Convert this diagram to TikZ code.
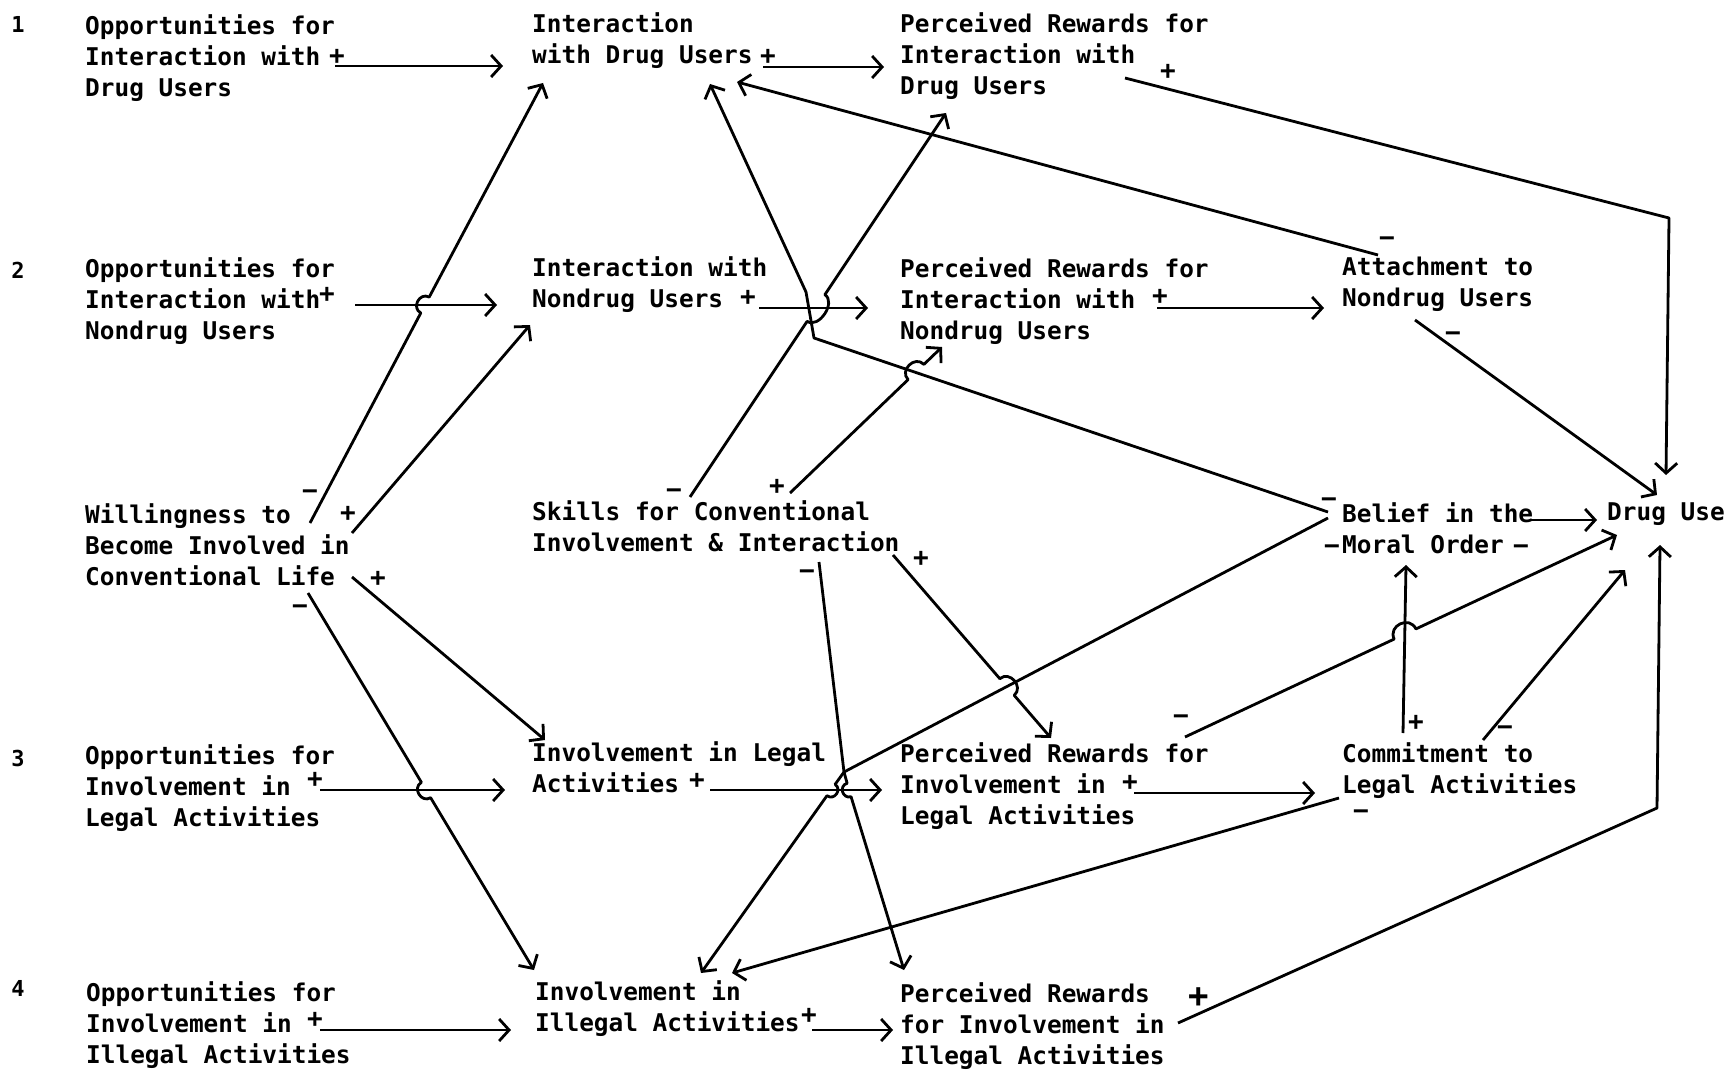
\documentclass[tikz,border=0pt]{standalone}
\usepackage{fontspec}
\newfontfamily\dfont{DejaVu Sans Mono}
\usetikzlibrary{arrows.meta,calc}
% hop over a crossing: start, crossing, end, half-width, height
\newcommand{\hopL}[5]{-- ($(#2)!#4!(#1)$) .. controls ($(#2)!#4!(#1)!#5!90:(#2)$) and ($(#2)!#4!(#3)!#5!-90:(#2)$) .. ($(#2)!#4!(#3)$) -- (#3)}
\newcommand{\hopR}[5]{-- ($(#2)!#4!(#1)$) .. controls ($(#2)!#4!(#1)!#5!-90:(#2)$) and ($(#2)!#4!(#3)!#5!90:(#2)$) .. ($(#2)!#4!(#3)$) -- (#3)}
\begin{document}
\begin{tikzpicture}[x=1pt,y=-1pt,
  lbl/.style={anchor=north west,inner sep=0pt,align=left,font=\dfont\bfseries\fontsize{24.4}{31}\selectfont},
  sgn/.style={inner sep=0pt,text height=16pt,text depth=0pt,font=\dfont\bfseries\fontsize{26}{26}\selectfont},
  bigsgn/.style={inner sep=0pt,text height=21pt,text depth=0pt,font=\dfont\bfseries\fontsize{34}{34}\selectfont},
  num/.style={inner sep=0pt,font=\dfont\bfseries\fontsize{22}{22}\selectfont},
  conn/.style={line width=2.8pt,line join=round,-{Straight Barb[length=10pt,width=22pt]}},
]
\fill[white] (0,0) rectangle (1736,1070);
\useasboundingbox (0,0) rectangle (1736,1070);

% row numbers
\node[num] (n1) at (18,24) {1};
\node[num] (n2) at (18,270) {2};
\node[num] (n3) at (18,758) {3};
\node[num] (n4) at (18,988) {4};

% text nodes
\node[lbl] (A1) at (85,14) {Opportunities for\\Interaction with\\Drug Users};
\node[lbl] (A2) at (85,257) {Opportunities for\\Interaction with\\Nondrug Users};
\node[lbl] (W) at (85,503) {Willingness to\\Become Involved in\\Conventional Life};
\node[lbl] (A3) at (85,744) {Opportunities for\\Involvement in\\Legal Activities};
\node[lbl] (A4) at (86,981) {Opportunities for\\Involvement in\\Illegal Activities};
\node[lbl] (B1) at (532,12) {Interaction\\with Drug Users};
\node[lbl] (B2) at (532,256) {Interaction with\\Nondrug Users};
\node[lbl] (S) at (532,500) {Skills for Conventional\\Involvement \& Interaction};
\node[lbl] (B3) at (532,741) {Involvement in Legal\\Activities};
\node[lbl] (B4) at (535,980) {Involvement in\\Illegal Activities};
\node[lbl] (C1) at (900,12) {Perceived Rewards for\\Interaction with\\Drug Users};
\node[lbl] (C2) at (900,257) {Perceived Rewards for\\Interaction with\\Nondrug Users};
\node[lbl] (C3) at (900,742) {Perceived Rewards for\\Involvement in\\Legal Activities};
\node[lbl] (C4) at (900,982) {Perceived Rewards\\for Involvement in\\Illegal Activities};
\node[lbl] (D2) at (1342,257) {Attachment to\\Nondrug Users};
\node[lbl] (M) at (1342,502) {Belief in the\\Moral Order};
\node[lbl] (D3) at (1342,742) {Commitment to\\Legal Activities};
\node[lbl] (U) at (1607,503) {Drug Use};

% connector end points
\coordinate (a1o) at (335,66);   \coordinate (b1a) at (503,66);
\coordinate (a2o) at (355,305);  \coordinate (b2a) at (497,305);
\coordinate (a3o) at (320,790);  \coordinate (b3a) at (505,790);
\coordinate (a4o) at (320,1030); \coordinate (b4a) at (511,1030);
\coordinate (b1o) at (763,67);   \coordinate (c1a) at (884,67);
\coordinate (b2o) at (759,308);  \coordinate (c2a) at (868,308);
\coordinate (b3o) at (710,790);  \coordinate (c3a) at (882,790);
\coordinate (b4o) at (812,1030); \coordinate (c4a) at (893,1030);
\coordinate (c2o) at (1157,308); \coordinate (d2a) at (1324,308);
\coordinate (c3o) at (1134,793); \coordinate (d3a) at (1315,793);
\coordinate (c1o) at (1125,78);  \coordinate (c1k) at (1669,218); \coordinate (uTop) at (1666,475);
\coordinate (d2o) at (1378,255); \coordinate (b1b) at (737,82);
\coordinate (d2u) at (1415,320); \coordinate (uTL) at (1657,495);
\coordinate (mo) at (1531,520);  \coordinate (uL) at (1597,520);
\coordinate (w1) at (310,523);   \coordinate (h1) at (425,305);   \coordinate (b1c) at (543,83);
\coordinate (w2) at (352,533);   \coordinate (b2b) at (530,325);
\coordinate (w3) at (352,577);   \coordinate (b3b) at (545,740);
\coordinate (w4) at (308,593);   \coordinate (h2) at (426,790);   \coordinate (b4b) at (534,970);
\coordinate (s1) at (690,497);   \coordinate (h3) at (816,308);   \coordinate (c1b) at (946,113);
\coordinate (s2) at (790,493);   \coordinate (h4) at (916,372);   \coordinate (c2b) at (942,347);
\coordinate (m1) at (1328,512);  \coordinate (mk1) at (814,338); \coordinate (mk2) at (806,292); \coordinate (b1d) at (710,84);
\coordinate (m2) at (1328,518);  \coordinate (kn) at (844,772);  \coordinate (h5) at (831,790); \coordinate (b4c) at (701,973);
\coordinate (s4) at (819,562);   \coordinate (h6) at (849,790);  \coordinate (c4b) at (904,970);
\coordinate (s3) at (893,555);   \coordinate (h7) at (1007,687); \coordinate (c3b) at (1051,738);
\coordinate (d3m) at (1403,733); \coordinate (mB) at (1406,565);
\coordinate (c3u) at (1185,737); \coordinate (h8) at (1405,634); \coordinate (uBL) at (1617,535);
\coordinate (d3u) at (1483,740); \coordinate (uB) at (1625,570);
\coordinate (d3b) at (1339,798); \coordinate (b4d) at (732,973);
\coordinate (c4o) at (1178,1023);\coordinate (c4k) at (1657,808); \coordinate (uBot) at (1660,545);

% connectors
\draw[conn] (a1o) -- (b1a);
\draw[conn] (a2o) -- (b2a);
\draw[conn] (a3o) -- (b3a);
\draw[conn] (a4o) -- (b4a);
\draw[conn] (b1o) -- (c1a);
\draw[conn] (b2o) -- (c2a);
\draw[conn] (b3o) -- (c3a);
\draw[conn] (b4o) -- (c4a);
\draw[conn] (c2o) -- (d2a);
\draw[conn] (c3o) -- (d3a);
\draw[conn] (c1o) -- (c1k) -- (uTop);
\draw[conn] (d2o) -- (b1b);
\draw[conn] (d2u) -- (uTL);
\draw[conn] (mo) -- (uL);
\draw[conn] (w1) \hopL{w1}{h1}{b1c}{9pt}{11pt};
\draw[conn] (w2) -- (b2b);
\draw[conn] (w3) -- (b3b);
\draw[conn] (w4) \hopR{w4}{h2}{b4b}{9pt}{11pt};
\draw[conn] (s1) \hopR{s1}{h3}{c1b}{16pt}{14pt};
\draw[conn] (s2) \hopL{s2}{h4}{c2b}{11pt}{13pt};
\draw[conn] (m1) -- (mk1) -- (mk2) -- (b1d);
\draw[conn] (m2) -- (kn) \hopL{kn}{h5}{b4c}{7pt}{9pt};
\draw[conn] (s4) -- (kn) \hopR{kn}{h6}{c4b}{7pt}{9pt};
\draw[conn] (s3) \hopL{s3}{h7}{c3b}{11pt}{13pt};
\draw[conn] (d3m) -- (mB);
\draw[conn] (c3u) \hopL{c3u}{h8}{uBL}{12pt}{15pt};
\draw[conn] (d3u) -- (uB);
\draw[conn] (d3b) -- (b4d);
\draw[conn] (c4o) -- (c4k) -- (uBot);

% signs
\node[sgn] (g1) at (337,57) {+};
\node[sgn] (g2) at (327,294) {+};
\node[sgn] (g3) at (315,779) {+};
\node[sgn] (g4) at (315,1019) {+};
\node[sgn] (g5) at (768,57) {+};
\node[sgn] (g6) at (748,297) {+};
\node[sgn] (g7) at (697,780) {+};
\node[sgn] (g8) at (809,1015) {+};
\node[sgn] (g9) at (1160,296) {+};
\node[sgn] (g10) at (1130,782) {+};
\node[sgn] (g11) at (1168,72) {+};
\node[sgn] (g12) at (1387,238) {−};
\node[sgn] (g13) at (1453,333) {−};
\node[sgn] (g14) at (310,491) {−};
\node[sgn] (g15) at (348,513) {+};
\node[sgn] (g16) at (378,578) {+};
\node[sgn] (g17) at (300,606) {−};
\node[sgn] (g18) at (674,490) {−};
\node[sgn] (g19) at (777,486) {+};
\node[sgn] (g20) at (921,558) {+};
\node[sgn] (g21) at (807,571) {−};
\node[sgn] (g22) at (1329,499) {−};
\node[sgn] (g23) at (1332,546) {−};
\node[sgn] (g24) at (1521,546) {−};
\node[sgn] (g25) at (1416,722) {+};
\node[sgn] (g26) at (1505,727) {−};
\node[sgn] (g27) at (1181,716) {−};
\node[sgn] (g28) at (1361,811) {−};
\node[bigsgn] (g29) at (1199,997) {+};
\end{tikzpicture}
\end{document}
